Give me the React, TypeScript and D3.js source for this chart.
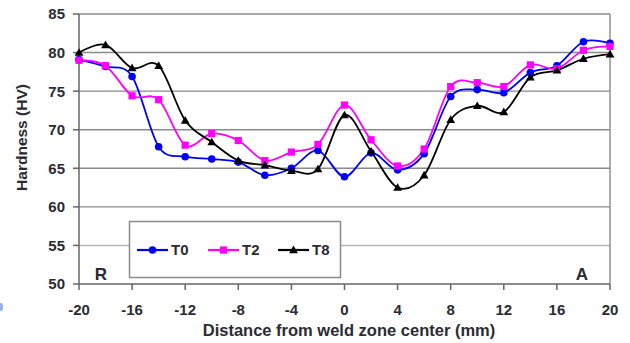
import React from "react";
import * as d3 from "d3";

const distances = [-20, -18, -16, -14, -12, -10, -8, -6, -4, -2, 0, 2, 4, 6, 8, 10, 12, 14, 16, 18, 20];
const t0 = [79.1, 78.2, 76.9, 67.8, 66.5, 66.2, 65.8, 64.1, 65.0, 67.3, 63.9, 67.0, 64.8, 66.9, 74.3, 75.2, 74.8, 77.4, 78.3, 81.4, 81.2];
const t2 = [79.0, 78.3, 74.4, 73.9, 68.0, 69.5, 68.6, 66.0, 67.1, 68.1, 73.2, 68.7, 65.3, 67.5, 75.6, 76.1, 75.6, 78.4, 77.9, 80.3, 80.8];
const t8 = [80.0, 81.0, 78.0, 78.3, 71.2, 68.4, 66.0, 65.4, 64.7, 64.9, 71.9, 67.2, 62.5, 64.1, 71.3, 73.1, 72.3, 76.8, 77.7, 79.2, 79.8];
const yTicks = [50, 55, 60, 65, 70, 75, 80, 85];
const xTicks = [-20, -16, -12, -8, -4, 0, 4, 8, 12, 16, 20];
const seriesNames = ["T0", "T2", "T8"];
const seriesColors = ["#0000ff", "#ff00ff", "#000000"];

const W = 630, H = 343;
const FONT = "'Liberation Sans', Arial, sans-serif";
const TEXT = "#2b2b33";

export default function App() {
  const x = d3.scaleLinear().domain([-20, 20]).range([79, 610]);
  const y = d3.scaleLinear().domain([50, 85]).range([284, 14]);
  const line = d3
    .line<number>()
    .x((_, i) => x(distances[i]))
    .y((v) => y(v))
    .curve(d3.curveCatmullRom.alpha(0));
  const all = [t0, t2, t8];

  const marker = (k: number, cx: number, cy: number, key: string) => {
    const c = seriesColors[k];
    if (k === 0) return <circle key={key} cx={cx} cy={cy} r={3.8} fill={c} />;
    if (k === 1) return <rect key={key} x={cx - 3.6} y={cy - 3.6} width={7.2} height={7.2} fill={c} />;
    const s = 4.4;
    return (
      <path key={key} d={`M${cx},${cy - s}L${cx + s},${cy + s * 0.75}L${cx - s},${cy + s * 0.75}Z`} fill={c} />
    );
  };

  const legendItems = [
    { lx: 137, tx: 171 },
    { lx: 208, tx: 242 },
    { lx: 278, tx: 312 },
  ];

  return (
    <svg width={W} height={H} style={{ position: "absolute", left: 0, top: 0, background: "#fff" }} fontFamily={FONT}>
      <rect width={W} height={H} fill="#fff" />
      {yTicks.slice(1).map((t) => (
        <line key={t} x1={79} x2={610} y1={y(t)} y2={y(t)} stroke={t === 55 ? "#b5b5b5" : "#8a8a8a"} strokeWidth={1.4} />
      ))}
      <line x1={610} x2={610} y1={y(85)} y2={y(50)} stroke="#8a8a8a" strokeWidth={1.4} />
      <line x1={79} x2={79} y1={y(85)} y2={y(50)} stroke="#666" strokeWidth={1.5} />
      <line x1={79} x2={610} y1={y(50)} y2={y(50)} stroke="#666" strokeWidth={1.5} />
      {yTicks.map((t) => (
        <g key={t}>
          <line x1={73} x2={79} y1={y(t)} y2={y(t)} stroke="#666" strokeWidth={1.5} />
          <text x={65} y={y(t)} dy="0.36em" textAnchor="end" fontSize={15} fontWeight="bold" fill={TEXT}>
            {t}
          </text>
        </g>
      ))}
      {xTicks.map((t) => (
        <g key={t}>
          <line x1={x(t)} x2={x(t)} y1={284} y2={290} stroke="#666" strokeWidth={1.5} />
          <text x={x(t)} y={315} textAnchor="middle" fontSize={15} fontWeight="bold" fill={TEXT}>
            {t}
          </text>
        </g>
      ))}
      <text x={349} y={336} textAnchor="middle" fontSize={16.5} fontWeight="bold" fill={TEXT}>
        Distance from weld zone center (mm)
      </text>
      <text transform={`translate(27,137.5) rotate(-90)`} textAnchor="middle" fontSize={15.5} fontWeight="bold" fill={TEXT}>
        Hardness (HV)
      </text>
      {all.map((s, k) => (
        <path key={k} d={line(s) || ""} fill="none" stroke={seriesColors[k]} strokeWidth={1.8} />
      ))}
      {all.map((s, k) => s.map((v, i) => marker(k, x(distances[i]), y(v), `${k}-${i}`)))}
      <rect x={129.5} y={221.5} width={211} height={56} fill="#fff" stroke="#8a8a8a" strokeWidth={1.5} />
      {legendItems.map((it, k) => (
        <g key={k}>
          <line x1={it.lx} x2={it.lx + 31} y1={250} y2={250} stroke={seriesColors[k]} strokeWidth={2.2} />
          {marker(k, it.lx + 15.5, 250, `lg${k}`)}
          <text x={it.tx} y={250} dy="0.36em" fontSize={15} fontWeight="bold" fill={TEXT}>
            {seriesNames[k]}
          </text>
        </g>
      ))}
      <text x={101} y={280} textAnchor="middle" fontSize={17} fontWeight="bold" fill={TEXT}>
        R
      </text>
      <text x={582} y={280} textAnchor="middle" fontSize={17} fontWeight="bold" fill={TEXT}>
        A
      </text>
      <ellipse cx={1} cy={307} rx={2} ry={4} fill="#8fb4e6" />
    </svg>
  );
}
